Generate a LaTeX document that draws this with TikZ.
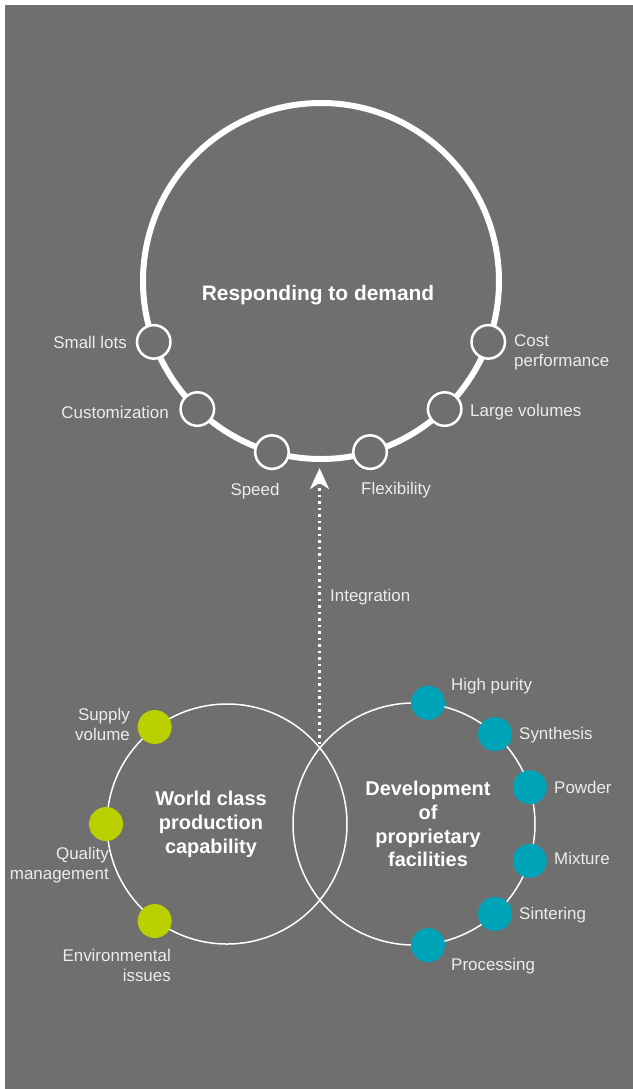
\documentclass[tikz,border=0pt]{standalone}
\usepackage{fontspec}
\setmainfont{Liberation Sans}
\usetikzlibrary{arrows.meta,calc}
\definecolor{bgc}{RGB}{111,111,111}
\definecolor{labc}{RGB}{236,236,236}
\definecolor{limec}{RGB}{187,208,0}
\definecolor{tealc}{RGB}{0,164,184}
\tikzset{
  lab/.style={text=labc,inner sep=0pt,font=\fontsize{17}{20}\selectfont},
  ttl/.style={text=white,inner sep=0pt,align=center,font=\fontsize{20}{24}\selectfont\bfseries},
  ring/.style={circle,draw=white,line width=2.5bp,fill=bgc,minimum size=33.5bp,inner sep=0pt},
  gdot/.style={circle,fill=limec,minimum size=34bp,inner sep=0pt},
  tdot/.style={circle,fill=tealc,minimum size=34bp,inner sep=0pt},
  thin ring/.style={circle,draw=white,line width=1.5bp,inner sep=0pt},
}
\begin{document}
\begin{tikzpicture}[x=1bp,y=-1bp]
\fill[white] (0,0) rectangle (633,1089);
\fill[bgc] (5,5) rectangle (633,1089);
\useasboundingbox (0,0) rectangle (633,1089);
% big circle
\coordinate (bc) at (321,281);
\node[circle,draw=white,line width=6bp,minimum size=356bp,inner sep=0pt] (big) at (bc) {};
\node[ttl,font=\fontsize{21}{24}\selectfont\bfseries] (t1) at (318,295) {Responding to demand};
\node[ring] (r1) at ($(bc)+(160:178)$) {};
\node[ring] (r2) at ($(bc)+(134:178)$) {};
\node[ring] (r3) at ($(bc)+(106:178)$) {};
\node[ring] (r4) at ($(bc)+(74:178)$) {};
\node[ring] (r5) at ($(bc)+(46:178)$) {};
\node[ring] (r6) at ($(bc)+(20:178)$) {};
\node[lab,anchor=east] (l1) at (127,342) {Small lots};
\node[lab,anchor=east] (l2) at (169,412) {Customization};
\node[lab] (l3) at (255,491) {Speed};
\node[lab] (l4) at (396,490) {Flexibility};
\node[lab,anchor=west] (l5) at (470,412) {Large volumes};
\node[lab,anchor=west,align=left] (l6) at (514,352) {Cost\\performance};
% lower circles
\coordinate (lc) at (227,824);
\coordinate (rc) at (414,824);
\node[thin ring,minimum size=240bp] (left) at (lc) {};
\node[thin ring,minimum size=242bp] (right) at (rc) {};
\node[ttl] (t2) at (211,824) {World class\\production\\capability};
\node[ttl] (t3) at (428,824) {Development\\of\\proprietary\\facilities};
\node[gdot] (g1) at ($(lc)+(233.3:121)$) {};
\node[gdot] (g2) at ($(lc)+(180:121)$) {};
\node[gdot] (g3) at ($(lc)+(126.7:121)$) {};
\node[lab,anchor=east,align=right] (gl1) at (130,724) {Supply\\volume};
\node[lab,anchor=east,align=right] (gl2) at (109,865) {Quality\\management};
\node[lab,anchor=east,align=right] (gl3) at (171,965) {Environmental\\issues};
\node[tdot] (d1) at ($(rc)+(276.6:122)$) {};
\node[tdot] (d2) at ($(rc)+(312:121)$) {};
\node[tdot] (d3) at ($(rc)+(342.4:121.5)$) {};
\node[tdot] (d4) at ($(rc)+(17.6:121.5)$) {};
\node[tdot] (d5) at ($(rc)+(48:121)$) {};
\node[tdot] (d6) at ($(rc)+(83.4:122)$) {};
\node[lab,anchor=west] (dl1) at (451,686) {High purity};
\node[lab,anchor=west] (dl2) at (519,735) {Synthesis};
\node[lab,anchor=west] (dl3) at (554,787) {Powder};
\node[lab,anchor=west] (dl4) at (554,858) {Mixture};
\node[lab,anchor=west] (dl5) at (519,915) {Sintering};
\node[lab,anchor=west] (dl6) at (451,966) {Processing};
% integration arrow
\coordinate (int) at (319.5,744);
\draw[white,line width=2.5bp,dash pattern=on 2.5bp off 4bp,shorten >=6bp,
  -{Stealth[length=21bp,width=19bp,inset=6bp]}] (int) -- (int |- big.south);
\node[lab,anchor=west] (il) at (330,597) {Integration};
\end{tikzpicture}
\end{document}
